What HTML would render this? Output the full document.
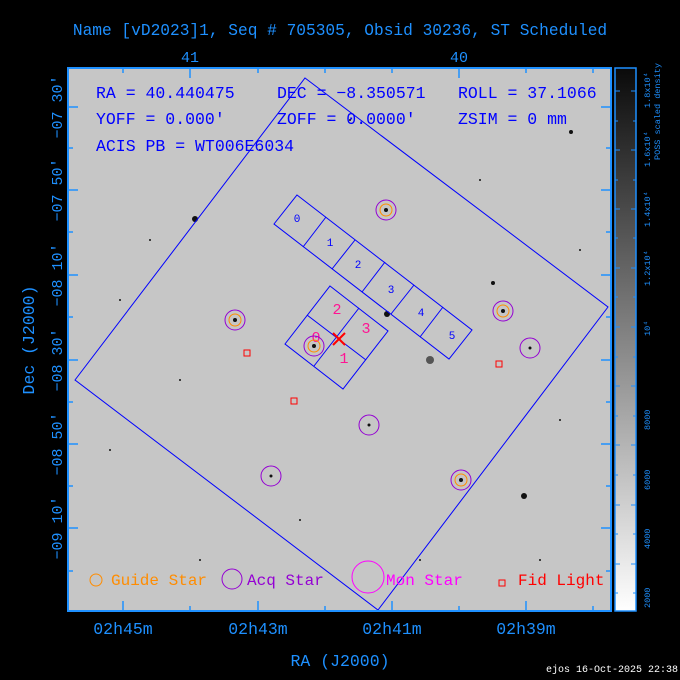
<!DOCTYPE html>
<html><head><meta charset="utf-8"><style>
html,body{margin:0;padding:0;background:#000;}
svg{display:block;}
text{font-family:"Liberation Mono",monospace;}
</style></head><body>
<svg width="680" height="680" viewBox="0 0 680 680" xmlns="http://www.w3.org/2000/svg">
<defs>
<linearGradient id="cb" x1="0" y1="1" x2="0" y2="0">
<stop offset="0" stop-color="#ffffff"/><stop offset="1" stop-color="#0a0a0a"/>
</linearGradient>
</defs>
<rect width="680" height="680" fill="#000"/>
<text x="340" y="35" fill="#1e90ff" font-size="16.2" text-anchor="middle">Name [vD2023]1, Seq # 705305, Obsid 30236, ST Scheduled</text>
<rect x="68" y="68" width="543" height="543" fill="#c6c6c6"/>
<g fill="#111">
<circle cx="195" cy="219" r="3"/><circle cx="386" cy="210" r="2"/><circle cx="235" cy="320" r="2"/><circle cx="503" cy="311" r="2"/>
<circle cx="387" cy="314" r="3"/><circle cx="524" cy="496" r="3"/><circle cx="571" cy="132" r="2"/><circle cx="493" cy="283" r="2"/>
<circle cx="461" cy="480" r="2"/><circle cx="314" cy="346" r="2"/><circle cx="530" cy="348" r="1.5"/><circle cx="369" cy="425" r="1.5"/>
<circle cx="271" cy="476" r="1.5"/><circle cx="150" cy="240" r="1"/><circle cx="430" cy="360" r="4" fill="#555"/>
<circle cx="120" cy="300" r="1"/><circle cx="260" cy="150" r="1"/><circle cx="560" cy="420" r="1"/><circle cx="110" cy="450" r="1"/>
<circle cx="300" cy="520" r="1"/><circle cx="420" cy="560" r="1"/><circle cx="580" cy="250" r="1"/><circle cx="180" cy="380" r="1"/>
<circle cx="480" cy="180" r="1"/><circle cx="350" cy="120" r="1"/><circle cx="200" cy="560" r="1"/><circle cx="540" cy="560" r="1"/>
</g>
<polygon points="305,78 608,307 378,610 75,380" fill="none" stroke="#0000ff" stroke-width="1"/>
<g fill="none" stroke="#0000ff" stroke-width="1">
<polygon points="297,195 472,330 449,359 274,224"/>
<line x1="326" y1="217" x2="303" y2="247"/>
<line x1="355" y1="240" x2="332" y2="269"/>
<line x1="385" y1="262" x2="362" y2="292"/>
<line x1="414" y1="285" x2="391" y2="314"/>
<line x1="443" y1="307" x2="420" y2="337"/>
<polygon points="330,286 388,331 343,389 285,344"/>
<line x1="359" y1="308" x2="314" y2="366"/>
<line x1="307" y1="315" x2="366" y2="360"/>
</g>
<g fill="#0000ff" font-size="11" text-anchor="middle">
<text x="297" y="222">0</text><text x="330" y="246">1</text><text x="358" y="268">2</text>
<text x="391" y="293">3</text><text x="421" y="316">4</text><text x="452" y="339">5</text>
</g>
<g fill="#ff1493" font-size="15" text-anchor="middle">
<text x="337" y="314">2</text><text x="366" y="333">3</text><text x="316" y="342">0</text><text x="344" y="363">1</text>
</g>
<g stroke="#ff0000" stroke-width="2"><line x1="333" y1="333" x2="345" y2="345"/><line x1="345" y1="333" x2="333" y2="345"/></g>
<g fill="none" stroke="#9400d3" stroke-width="1">
<circle cx="386" cy="210" r="10"/><circle cx="235" cy="320" r="10"/><circle cx="503" cy="311" r="10"/>
<circle cx="530" cy="348" r="10"/><circle cx="314" cy="346" r="10"/><circle cx="369" cy="425" r="10"/>
<circle cx="271" cy="476" r="10"/><circle cx="461" cy="480" r="10"/>
</g>
<g fill="none" stroke="#ff8c00" stroke-width="1">
<circle cx="386" cy="210" r="6"/><circle cx="235" cy="320" r="6"/><circle cx="503" cy="311" r="6"/>
<circle cx="314" cy="346" r="6"/><circle cx="461" cy="480" r="6"/>
</g>
<g fill="none" stroke="#ff0000" stroke-width="1">
<rect x="244" y="350" width="6" height="6"/><rect x="291" y="398" width="6" height="6"/><rect x="496" y="361" width="6" height="6"/>
</g>
<g fill="#0000ff" font-size="16.5">
<text x="96" y="98">RA = 40.440475</text>
<text x="277" y="98">DEC = −8.350571</text>
<text x="458" y="98">ROLL = 37.1066</text>
<text x="96" y="124">YOFF =   0.000′</text>
<text x="277" y="124">ZOFF =   0.0000′</text>
<text x="458" y="124">ZSIM = 0 mm</text>
<text x="96" y="151">ACIS PB = WT006E6034</text>
</g>
<g font-size="16">
<circle cx="96" cy="580" r="6" fill="none" stroke="#ff8c00"/>
<text x="111" y="585" fill="#ff8c00">Guide Star</text>
<circle cx="232" cy="579" r="10" fill="none" stroke="#9400d3"/>
<text x="247" y="585" fill="#9400d3">Acq Star</text>
<circle cx="368" cy="577" r="16" fill="none" stroke="#ff00ff"/>
<text x="386" y="585" fill="#ff00ff">Mon Star</text>
<rect x="499" y="580" width="6" height="6" fill="none" stroke="#ff0000"/>
<text x="518" y="585" fill="#ff0000">Fid Light</text>
</g>
<rect x="68" y="68" width="543" height="543" fill="none" stroke="#1e90ff" stroke-width="2"/>
<g stroke="#1e90ff" stroke-width="1.5">
<path d="M68 107h10M68 190h10M68 275h10M68 360h10M68 444h10M68 528h10M68 148h5M68 232h5M68 317h5M68 402h5M68 486h5M68 571h5"/>
<path d="M611 107h-10M611 190h-10M611 275h-10M611 360h-10M611 444h-10M611 528h-10M611 148h-5M611 232h-5M611 317h-5M611 402h-5M611 486h-5M611 571h-5"/>
<path d="M123 611v-10M258 611v-10M392 611v-10M526 611v-10M190 611v-5M325 611v-5M459 611v-5M593 611v-5"/>
<path d="M190 68v10M459 68v10M123 68v5M258 68v5M392 68v5M526 68v5M325 68v5M593 68v5"/>
</g>
<g fill="#1e90ff" font-size="15" text-anchor="middle">
<text x="190" y="62">41</text><text x="459" y="62">40</text>
<text x="123" y="634" font-size="16.5">02h45m</text><text x="258" y="634" font-size="16.5">02h43m</text><text x="392" y="634" font-size="16.5">02h41m</text><text x="526" y="634" font-size="16.5">02h39m</text>
<text x="340" y="666" font-size="16.5">RA (J2000)</text>
<text transform="translate(62,107) rotate(-90)">−07 30′</text>
<text transform="translate(62,190) rotate(-90)">−07 50′</text>
<text transform="translate(62,275) rotate(-90)">−08 10′</text>
<text transform="translate(62,360) rotate(-90)">−08 30′</text>
<text transform="translate(62,444) rotate(-90)">−08 50′</text>
<text transform="translate(62,528) rotate(-90)">−09 10′</text>
<text transform="translate(34,340) rotate(-90)" font-size="16.5">Dec (J2000)</text>
</g>
<rect x="615" y="68" width="21" height="543" fill="url(#cb)" stroke="#1e90ff" stroke-width="1.5"/>
<g stroke="#1e90ff" stroke-width="1">
<path d="M615 91h5M631 91h5M615 150h5M631 150h5M615 268h5M631 268h5M615 327h5M631 327h5M615 386h5M631 386h5M615 445h5M631 445h5M615 505h5M631 505h5M615 564h5M631 564h5"/>
<path d="M615 121h3M633 121h3M615 180h3M633 180h3M615 209h5M631 209h5M615 238h3M633 238h3M615 297h3M633 297h3M615 357h3M633 357h3M615 416h3M633 416h3M615 475h3M633 475h3M615 534h3M633 534h3M615 593h3M633 593h3"/>
</g>
<g fill="#1e90ff" font-size="8.5">
<text transform="translate(650,608) rotate(-90)">2000</text>
<text transform="translate(650,549) rotate(-90)">4000</text>
<text transform="translate(650,490) rotate(-90)">6000</text>
<text transform="translate(650,430) rotate(-90)">8000</text>
<text transform="translate(650,336) rotate(-90)">10⁴</text>
<text transform="translate(650,286) rotate(-90)">1.2x10⁴</text>
<text transform="translate(650,227) rotate(-90)">1.4x10⁴</text>
<text transform="translate(650,167) rotate(-90)">1.6x10⁴</text>
<text transform="translate(650,108) rotate(-90)">1.8x10⁴</text>
<text transform="translate(660,160) rotate(-90)">POSS scaled density</text>
</g>
<text x="678" y="672" fill="#fff" font-size="10" text-anchor="end">ejos 16-Oct-2025 22:38</text>
</svg>
</body></html>
